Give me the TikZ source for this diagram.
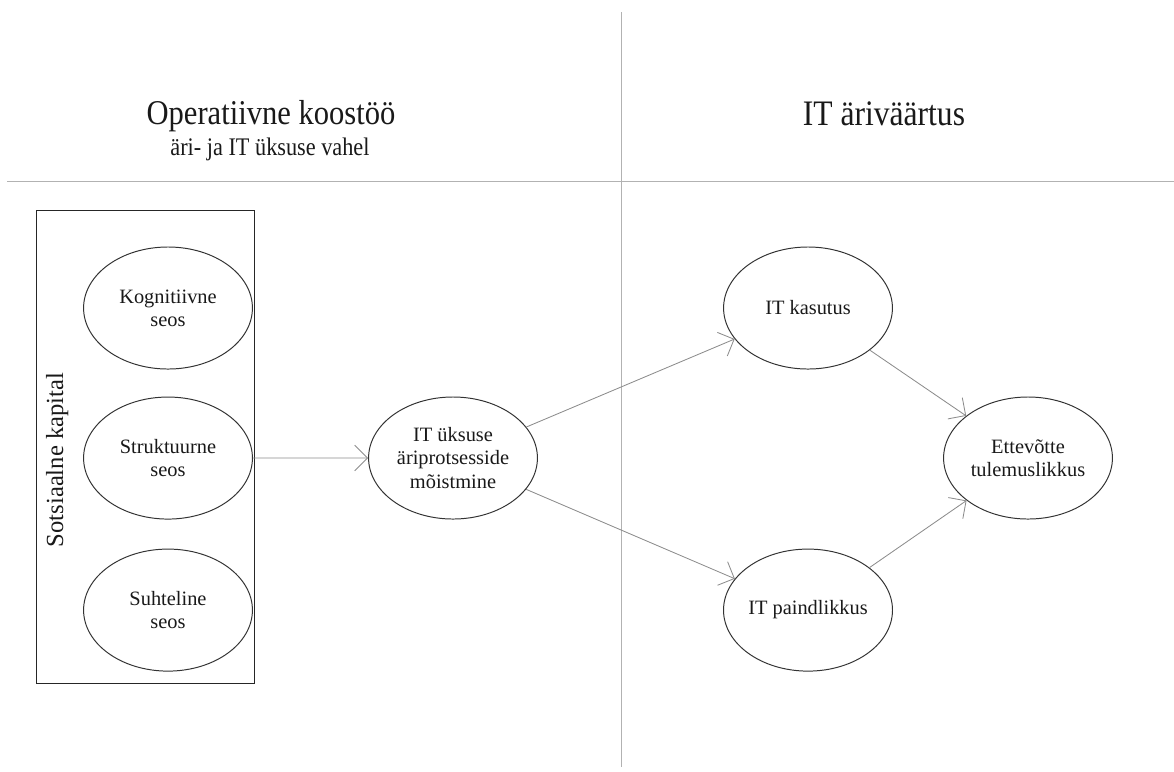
\documentclass[tikz,border=0pt]{standalone}
\usepackage{fontspec}
\setmainfont{Liberation Serif}
\newfontfamily\titlefont{Liberation Serif}[FakeStretch=0.88]
\usetikzlibrary{arrows.meta,shapes,positioning}

\begin{document}
\begin{tikzpicture}[
x=0.025cm, y=-0.025cm, text=black!90,
oval/.style={ellipse, draw=black!80, line width=0.7pt, minimum width=4.22cm,
    minimum height=3.05cm, inner sep=0pt, align=center,
    font=\fontsize{14.5}{16.5}\selectfont},
link/.style={draw=black!45, line width=0.6pt,
    -{Straight Barb[length=3.2mm, width=6.4mm]}},
divider/.style={draw=black!30, line width=0.6pt},
]
\useasboundingbox (0,0) rectangle (1174,771);

% pealkirjad
\node[anchor=base, font=\titlefont\fontsize{24.7}{28}\selectfont] (op) at (271,124) {Operatiivne koostöö};
\node[anchor=base, font=\titlefont\fontsize{18}{20}\selectfont] (opsub) at (270,155) {äri- ja IT üksuse vahel};
\node[anchor=base, font=\titlefont\fontsize{25.5}{28}\selectfont] (iv) at (884,125) {IT äriväärtus};

\draw[divider] (7,181) -- (1174,181);
\draw[divider] (621,12) -- (621,767);

% sotsiaalne kapital
\node[draw=black!85, line width=0.7pt, minimum width=5.425cm, minimum height=11.8cm] (box) at (145.5,447) {};
\node[rotate=90, anchor=base, font=\fontsize{17.5}{20}\selectfont] (sots) at (63,460) {Sotsiaalne kapital};

\node[oval] (kog) at (168,308) {Kognitiivne\\seos};
\node[oval, below of=kog, node distance=3.75cm] (str) {Struktuurne\\seos};
\node[oval, below of=str, node distance=3.8cm] (suh) {Suhteline\\seos};

\node[oval] (moist) at (453,458) {IT üksuse\\äriprotsesside\\mõistmine};

\node[oval] (kas) at (808,308) {IT kasutus};
\node[oval, below of=kas, node distance=7.55cm] (paind) {IT paindlikkus};
\node[oval] (tul) at (1028,458) {Ettevõtte\\tulemuslikkus};

\draw[link] (str) -- (moist);
\draw[link] (moist) -- (kas);
\draw[link] (moist) -- (paind);
\draw[link] (kas) -- (tul);
\draw[link] (paind) -- (tul);

\end{tikzpicture}
\end{document}
